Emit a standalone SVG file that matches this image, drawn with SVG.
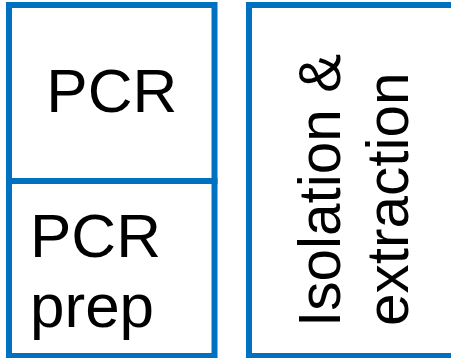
<svg xmlns="http://www.w3.org/2000/svg" width="451" height="358" viewBox="0 0 451 358">
<style>
.box{fill:#fff;stroke:#0070C0;stroke-width:6}
.t{font-family:"Liberation Sans",Arial,sans-serif;fill:#000}
</style>
<rect width="451" height="358" fill="#fff"/>
<g id="pcr">
<rect class="box" x="9" y="5" width="205.5" height="176"/>
<text class="t" x="111.75" y="112" font-size="62" text-anchor="middle">PCR</text>
</g>
<g id="pcr-prep">
<rect class="box" x="9" y="181" width="205.5" height="175"/>
<text class="t" x="30" y="257" font-size="62">PCR</text>
<text class="t" x="30" y="327" font-size="62">prep</text>
</g>
<g id="isolation">
<rect class="box" x="249" y="5" width="210" height="351"/>
<text class="t" font-size="58.5" transform="translate(340,327) rotate(-90)">Isolation &amp;</text>
<text class="t" font-size="58.5" transform="translate(408,326) rotate(-90)">extraction</text>
</g>
<g id="connectors"/>
</svg>
